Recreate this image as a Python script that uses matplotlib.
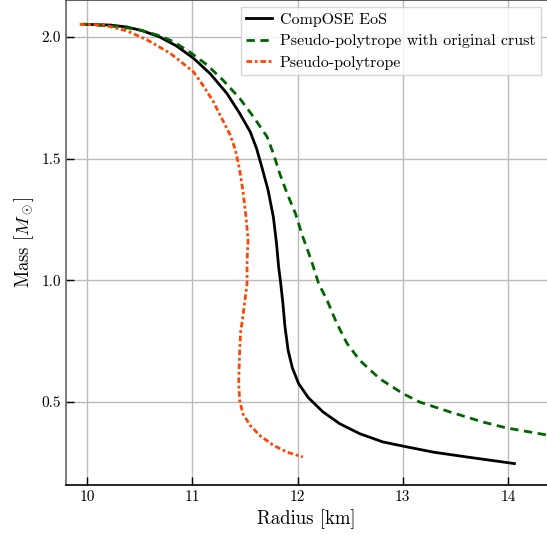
import matplotlib
matplotlib.use("Agg")
import matplotlib.pyplot as plt

plt.rcParams['font.family'] = 'serif'
plt.rcParams['font.serif'] = ['cmr10']
plt.rcParams['mathtext.fontset'] = 'cm'
plt.rcParams['axes.formatter.use_mathtext'] = True

# CompOSE EoS
r_compose = [9.98, 10.22, 10.38, 10.53, 10.69, 10.85, 11.01, 11.17, 11.33, 11.45, 11.55,
             11.61, 11.66, 11.72, 11.77, 11.80, 11.82, 11.84, 11.86, 11.88, 11.91,
             11.95, 12.01, 12.10, 12.24, 12.40, 12.59, 12.81, 13.0, 13.29, 13.61, 14.06]
m_compose = [2.052, 2.049, 2.041, 2.025, 2.0, 1.963, 1.913, 1.849, 1.767, 1.686, 1.610,
             1.542, 1.466, 1.370, 1.260, 1.151, 1.055, 0.986, 0.908, 0.810, 0.712,
             0.640, 0.575, 0.518, 0.459, 0.41, 0.369, 0.335, 0.318, 0.293, 0.273, 0.246]

# Pseudo-polytrope with original crust
r_crust = [9.96, 10.31, 10.50, 10.69, 10.82, 10.98, 11.14, 11.29, 11.45, 11.58, 11.71,
           11.77, 11.83, 11.90, 11.98, 12.05, 12.13, 12.20, 12.28, 12.37, 12.47,
           12.59, 12.78, 13.0, 13.16, 13.45, 13.76, 13.99, 14.35, 14.6]
m_crust = [2.053, 2.042, 2.029, 2.005, 1.981, 1.937, 1.885, 1.823, 1.748, 1.672, 1.590,
           1.521, 1.439, 1.357, 1.274, 1.178, 1.082, 0.986, 0.918, 0.825, 0.740,
           0.671, 0.595, 0.534, 0.499, 0.458, 0.417, 0.392, 0.365, 0.35]

# Pseudo-polytrope
r_pp = [9.93, 10.16, 10.38, 10.57, 10.79, 11.01, 11.10, 11.20, 11.28, 11.36, 11.41,
        11.45, 11.48, 11.51, 11.53, 11.52, 11.52, 11.50, 11.48, 11.46, 11.45,
        11.44, 11.45, 11.48, 11.55, 11.64, 11.77, 11.90, 12.05]
m_pp = [2.052, 2.049, 2.025, 1.988, 1.933, 1.857, 1.802, 1.734, 1.665, 1.597, 1.535,
        1.453, 1.370, 1.260, 1.165, 1.082, 0.986, 0.918, 0.849, 0.790, 0.712,
        0.575, 0.506, 0.451, 0.403, 0.362, 0.321, 0.293, 0.273]

xticks = [10, 11, 12, 13, 14]
yticks = [0.5, 1.0, 1.5, 2.0]

fig = plt.figure(figsize=(5.47, 5.35), dpi=100)
ax = fig.add_axes([0.1207, 0.0935, 0.8793, 0.9065])

ax.plot(r_compose, m_compose, color='black', lw=2.0, label='CompOSE EoS')
ax.plot(r_crust, m_crust, color='#006400', lw=2.0, ls=(0, (3, 2)),
        label='Pseudo-polytrope with original crust')
ax.plot(r_pp, m_pp, color='#FF4500', lw=2.0, ls=(0, (2, 1, 1, 1)),
        label='Pseudo-polytrope')

ax.set_xlim(9.8, 14.37)
ax.set_ylim(0.158, 2.152)
ax.set_xticks(xticks)
ax.set_yticks(yticks)
ax.set_xticklabels([str(t) for t in xticks])
ax.set_yticklabels([f"{t:.1f}" for t in yticks])
ax.grid(True, color='#bbbbbb', lw=1.0)
ax.set_axisbelow(True)
ax.tick_params(direction='in', length=6, width=1, labelsize=11, colors='black')
ax.spines['left'].set_color('#666666')
ax.spines['top'].set_color('#444444')
ax.spines['right'].set_visible(False)
ax.spines['bottom'].set_color('black')
for s in ax.spines.values():
    s.set_linewidth(1.2)

ax.set_xlabel('Radius [km]', fontsize=13.5)
ax.set_ylabel(r'Mass [$M_\odot$]', fontsize=13.5)

leg = ax.legend(loc='upper right', fontsize=11.5, frameon=True, fancybox=False,
                handlelength=1.6, handletextpad=0.5, borderpad=0.35, labelspacing=0.45,
                borderaxespad=0.0, bbox_to_anchor=(0.988, 0.985))
leg.get_frame().set_edgecolor('#cccccc')
leg.get_frame().set_linewidth(1.0)

fig.savefig('out.png', dpi=100)
